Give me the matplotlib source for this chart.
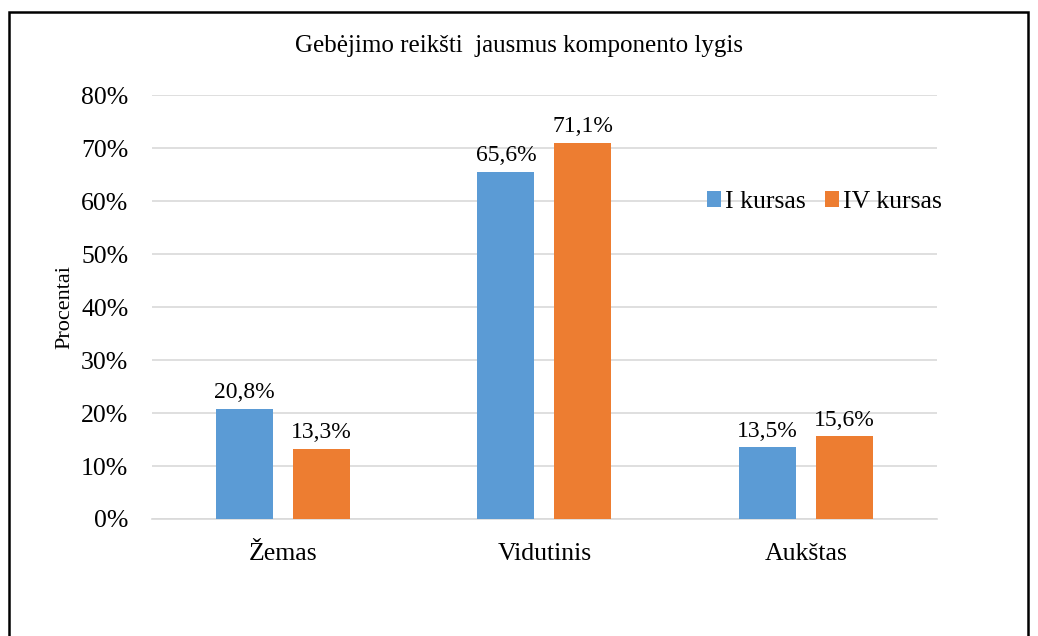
import matplotlib
matplotlib.use('Agg')
from matplotlib import pyplot as plt
from matplotlib import patches as mpatch
import numpy as np

# Données
categories = ['Žemas', 'Vidutinis', 'Aukštas']
i_kursas = [20.8, 65.6, 13.5]
iv_kursas = [13.3, 71.1, 15.6]
series_names = ['I kursas', 'IV kursas']
title = 'Gebėjimo reikšti  jausmus komponento lygis'

BLUE = '#5B9BD5'
ORANGE = '#ED7D31'
GRID = '#D9D9D9'

plt.rcParams['font.family'] = ['Liberation Serif', 'DejaVu Serif']

fig = plt.figure(figsize=(10.38, 6.36), dpi=100)
ax = fig.add_axes([0.1464, 0.184, 0.756, 0.666])

x = np.arange(len(categories))
w = 0.218
off = 0.147
b1 = ax.bar(x - off, i_kursas, w, color=BLUE, label=series_names[0], zorder=3)
b2 = ax.bar(x + off, iv_kursas, w, color=ORANGE, label=series_names[1], zorder=3)

for bars, vals in [(b1, i_kursas), (b2, iv_kursas)]:
    for rect, v in zip(bars, vals):
        ax.annotate(f'{v:.1f}%'.replace('.', ','),
                    (rect.get_x() + rect.get_width() / 2, v),
                    xytext=(0, 4), textcoords='offset points',
                    ha='center', va='bottom', fontsize=17)

ax.set_xlim(-0.5, 2.5)
ax.set_ylim(0, 80)
ax.set_yticks(np.arange(0, 81, 10))
ax.set_yticklabels([f'{t}%' for t in range(0, 81, 10)], fontsize=18.5)
ax.set_xticks(x)
ax.set_xticklabels(categories, fontsize=18.5)
ax.tick_params(axis='both', length=0)
ax.tick_params(axis='y', pad=17)
ax.tick_params(axis='x', pad=17)
ax.yaxis.grid(True, color=GRID, linewidth=1.2, zorder=0)
for s in ['top', 'right', 'left']:
    ax.spines[s].set_visible(False)
ax.spines['bottom'].set_color(GRID)
ax.spines['bottom'].set_linewidth(1.2)

ax.set_ylabel('Procentai', fontsize=16)
ax.yaxis.set_label_coords(-0.099, 0.5)

fig.text(0.5, 0.928, title, ha='center', va='center', fontsize=18)

ax.legend(loc='center left', bbox_to_anchor=(0.707, 0.748), ncol=2,
          frameon=False, fontsize=18.5, handlelength=0.55, handleheight=0.55,
          handletextpad=0.15, columnspacing=0.75, borderaxespad=0,
          borderpad=0)

# Cadre du graphique (le bas sort de l'image)
frame = mpatch.Rectangle((9 / 1038, -0.05), (1028 - 9) / 1038, 1.05 - 12.5 / 636,
                         transform=fig.transFigure, fill=False,
                         edgecolor='black', linewidth=1.8)
fig.patches.append(frame)

fig.savefig('out.png', dpi=100)
